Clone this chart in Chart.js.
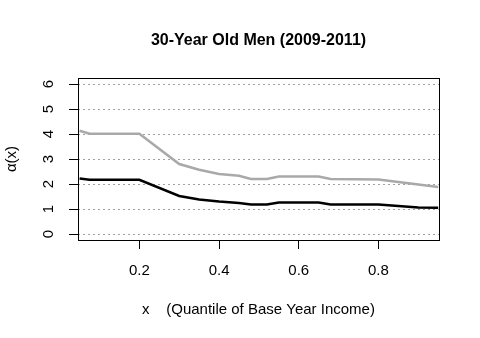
<!DOCTYPE html>
<html>
<head>
<meta charset="utf-8">
<script src="https://cdn.jsdelivr.net/npm/chart.js@4/dist/chart.umd.min.js"></script>
<style>
  html, body { margin: 0; padding: 0; background: #ffffff; }
  canvas { display: block; }
</style>
</head>
<body>
<canvas id="c" width="480" height="338"></canvas>
<script>
// ---- Data ----
const xValues      = [0.05, 0.075, 0.2, 0.3, 0.35, 0.4, 0.45, 0.48, 0.52, 0.55, 0.65, 0.68, 0.8, 0.85, 0.9, 0.95];
const upperSeries  = [4.13, 4.01, 4.01, 2.80, 2.57, 2.40, 2.33, 2.20, 2.20, 2.30, 2.30, 2.20, 2.18, 2.08, 1.98, 1.88];
const lowerSeries  = [2.22, 2.17, 2.17, 1.52, 1.38, 1.30, 1.24, 1.18, 1.18, 1.26, 1.26, 1.18, 1.18, 1.12, 1.06, 1.05];
const xTicks = [0.2, 0.4, 0.6, 0.8];
const yTicks = [0, 1, 2, 3, 4, 5, 6];
const titleText = '30-Year Old Men (2009-2011)';
const xTitle = 'x    (Quantile of Base Year Income)';
const yTitle = 'α(x)';

const toPoints = (xs, ys) => xs.map((x, i) => ({ x: x, y: ys[i] }));
const FONT = "'Liberation Sans', Arial, sans-serif";

const boxPlugin = {
  id: 'rbox',
  beforeDraw(chart) {
    const ctx = chart.ctx;
    ctx.save();
    ctx.fillStyle = '#ffffff';
    ctx.fillRect(0, 0, chart.width, chart.height);
    ctx.restore();
  },
  afterDraw(chart) {
    const a = chart.chartArea;
    const ctx = chart.ctx;
    ctx.save();
    ctx.strokeStyle = '#000000';
    ctx.lineWidth = 1;
    ctx.strokeRect(Math.round(a.left) + 0.5, Math.round(a.top) + 0.5,
                   Math.round(a.right - a.left), Math.round(a.bottom - a.top));
    ctx.restore();
  }
};

new Chart(document.getElementById('c'), {
  type: 'scatter',
  data: {
    datasets: [
      {
        data: toPoints(xValues, upperSeries),
        showLine: true,
        borderColor: '#a9a9a9',
        borderWidth: 2.5,
        pointRadius: 0,
        tension: 0,
        fill: false
      },
      {
        data: toPoints(xValues, lowerSeries),
        showLine: true,
        borderColor: '#000000',
        borderWidth: 2.5,
        pointRadius: 0,
        tension: 0,
        fill: false
      }
    ]
  },
  options: {
    responsive: false,
    animation: false,
    devicePixelRatio: 1,
    layout: { padding: { top: 0, right: 0, bottom: 0, left: 37 } },
    plugins: {
      legend: { display: false },
      tooltip: { enabled: false },
      title: {
        display: true,
        text: titleText,
        color: '#000000',
        font: { family: FONT, size: 16, weight: 'bold' },
        padding: { top: 30.5, bottom: 28.3 }
      }
    },
    scales: {
      x: {
        type: 'linear',
        min: 0.046,
        max: 0.952,
        afterBuildTicks: (s) => { s.ticks = xTicks.map(v => ({ value: v })); },
        afterFit: (s) => { s.height = 98; },
        ticks: {
          color: '#000000',
          font: { family: FONT, size: 15 },
          padding: 13,
          maxRotation: 0,
          callback: (v) => String(v)
        },
        grid: {
          drawOnChartArea: false,
          drawTicks: true,
          tickLength: 9,
          tickColor: '#000000',
          tickWidth: 1,
          color: '#000000'
        },
        border: { display: false },
        title: {
          display: true,
          text: xTitle,
          color: '#000000',
          font: { family: FONT, size: 15 },
          padding: { top: 0, bottom: 19 }
        }
      },
      y: {
        type: 'linear',
        position: 'left',
        min: -0.24,
        max: 6.24,
        afterBuildTicks: (s) => { s.ticks = yTicks.map(v => ({ value: v })); },
        afterFit: (s) => { s.width = 41; },
        ticks: {
          color: '#000000',
          font: { family: FONT, size: 15 },
          padding: 16,
          minRotation: 90,
          maxRotation: 90,
          crossAlign: 'center',
          callback: (v) => String(v)
        },
        grid: {
          drawOnChartArea: true,
          drawTicks: true,
          tickLength: 9,
          tickColor: '#000000',
          tickWidth: 1,
          tickBorderDash: [],
          color: '#a0a0a0',
          lineWidth: 1
        },
        border: { display: false, dash: [2, 3] },
        title: {
          display: true,
          text: yTitle,
          color: '#000000',
          font: { family: FONT, size: 15 },
          padding: { top: -34, bottom: 0 }
        }
      },
      yRight: {
        type: 'linear',
        position: 'right',
        display: true,
        min: 0,
        max: 1,
        afterFit: (s) => { s.width = 41; },
        ticks: { display: false },
        grid: { display: false, drawOnChartArea: false, drawTicks: false },
        border: { display: false }
      }
    }
  },
  plugins: [boxPlugin]
});
</script>
</body>
</html>
